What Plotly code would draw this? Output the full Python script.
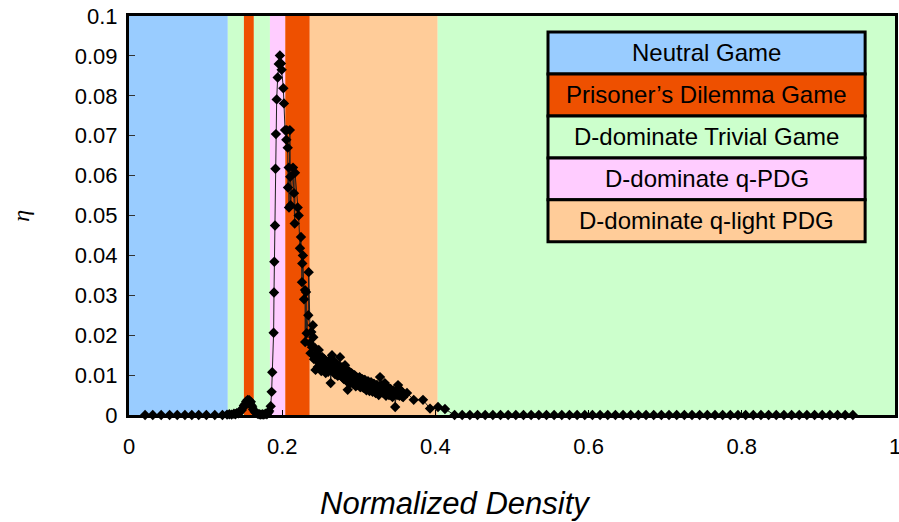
import plotly.graph_objects as go

# ---------------- data ----------------
# regime bands along the density axis (start, end, colour name)
band_starts = [0.0, 0.129, 0.150, 0.163, 0.184, 0.204, 0.236, 0.403]
band_ends = [0.129, 0.150, 0.163, 0.184, 0.204, 0.236, 0.403, 1.0]
band_kinds = ["neutral", "trivial", "pd", "trivial", "qpdg", "pd", "qlight", "trivial"]

legend_labels = ["Neutral Game", "Prisoner\u2019s Dilemma Game", "D-dominate Trivial Game",
                 "D-dominate q-PDG", "D-dominate q-light PDG"]
legend_kinds = ["neutral", "pd", "trivial", "qpdg", "qlight"]

# eta vs normalized density
left_zero_density = [0.021, 0.031, 0.042, 0.053, 0.063, 0.073, 0.082, 0.091, 0.101, 0.112]
left_zero_eta = [0, 0, 0, 0, 0, 0, 0, 0, 0, 0]

bump_density = [0.122, 0.128, 0.131, 0.134, 0.137, 0.139, 0.141, 0.143, 0.145, 0.147,
                0.149, 0.150, 0.152, 0.153, 0.154, 0.155, 0.156, 0.157, 0.158, 0.159,
                0.160, 0.161, 0.162, 0.164, 0.166, 0.168, 0.170, 0.172, 0.174, 0.176,
                0.178, 0.180, 0.182, 0.183]
bump_eta = [0.0, 0.0001, 0.0002, 0.0001, 0.0003, 0.0002, 0.0005, 0.0004, 0.0009, 0.0012,
            0.0018, 0.0024, 0.0028, 0.0034, 0.0031, 0.0038, 0.0035, 0.0037, 0.0030, 0.0033,
            0.0024, 0.0020, 0.0014, 0.0008, 0.0005, 0.0003, 0.0002, 0.0001, 0.0002, 0.0001,
            0.0003, 0.0002, 0.0006, 0.0010]

peak_density = [0.1850, 0.1862, 0.1870, 0.1888, 0.1893, 0.1897, 0.1906, 0.1912, 0.1918,
                0.1928, 0.1941, 0.1955, 0.1970, 0.1984, 0.1993, 0.2015, 0.2023]
peak_eta = [0.0022, 0.0058, 0.0107, 0.0206, 0.0307, 0.0384, 0.0475, 0.0617, 0.0704,
            0.0791, 0.0846, 0.0880, 0.0901, 0.0881, 0.0865, 0.0819, 0.0781]

fall_density = [0.2037, 0.2054, 0.2059, 0.2072, 0.2076, 0.2085, 0.2089, 0.2100, 0.2105,
                0.2110, 0.2141, 0.2154, 0.2163, 0.2167, 0.2202, 0.2215, 0.2232, 0.2245,
                0.2258, 0.2262, 0.2270, 0.2285, 0.2298, 0.2300, 0.2311, 0.2320, 0.2341,
                0.2346, 0.2363]
fall_eta = [0.0714, 0.0690, 0.0714, 0.0670, 0.0570, 0.0620, 0.0520, 0.0714, 0.0597,
            0.0526, 0.0620, 0.0556, 0.0480, 0.0607, 0.0520, 0.0500, 0.0418, 0.0446,
            0.0333, 0.0380, 0.0400, 0.0290, 0.0313, 0.0183, 0.0308, 0.0205, 0.0250,
            0.0358, 0.0180]

tail_density = [0.2370, 0.2380, 0.2389, 0.2400, 0.2406, 0.2415, 0.2428, 0.2435, 0.2445,
                0.2450, 0.2465, 0.2470, 0.2477, 0.2485, 0.2493, 0.2500, 0.2510, 0.2518,
                0.2525, 0.2533, 0.2540, 0.2550, 0.2560, 0.2568, 0.2575, 0.2583, 0.2590,
                0.2600, 0.2610, 0.2617, 0.2624, 0.2633, 0.2641, 0.2650, 0.2658, 0.2665,
                0.2673, 0.2680, 0.2690, 0.2700, 0.2708, 0.2715, 0.2725, 0.2735, 0.2745,
                0.2755, 0.2762, 0.2770, 0.2780, 0.2790, 0.2798, 0.2805, 0.2812, 0.2820,
                0.2830, 0.2840, 0.2848, 0.2855, 0.2862, 0.2870, 0.2880, 0.2890, 0.2898,
                0.2905, 0.2915, 0.2925, 0.2935, 0.2945, 0.2952, 0.2960, 0.2970, 0.2980,
                0.2990, 0.3000, 0.3010, 0.3018, 0.3025, 0.3035, 0.3045, 0.3052, 0.3060,
                0.3070, 0.3080, 0.3090, 0.3100, 0.3110, 0.3120, 0.3130, 0.3140, 0.3150,
                0.3160, 0.3170, 0.3180, 0.3190, 0.3200, 0.3210, 0.3220, 0.3230, 0.3240,
                0.3250, 0.3260, 0.3268, 0.3277, 0.3285, 0.3290, 0.3300, 0.3310, 0.3320,
                0.3330, 0.3340, 0.3348, 0.3355, 0.3365, 0.3375, 0.3385, 0.3395, 0.3405,
                0.3415, 0.3428, 0.3440, 0.3455, 0.3470, 0.3475, 0.3490, 0.3500, 0.3512,
                0.3520, 0.3530, 0.3542, 0.3555, 0.3568, 0.3580, 0.3629, 0.3717, 0.3838,
                0.3930, 0.4034, 0.4125]
tail_eta = [0.0155, 0.0208, 0.0170, 0.0225, 0.0195, 0.0140, 0.0168, 0.0113, 0.0150,
            0.0140, 0.0120, 0.0152, 0.0163, 0.0118, 0.0130, 0.0145, 0.0110, 0.0138,
            0.0145, 0.0112, 0.0118, 0.0140, 0.0135, 0.0105, 0.0112, 0.0132, 0.0128,
            0.0108, 0.0115, 0.0138, 0.0133, 0.0080, 0.0120, 0.0150, 0.0110, 0.0118,
            0.0135, 0.0130, 0.0102, 0.0108, 0.0128, 0.0125, 0.0098, 0.0100, 0.0122,
            0.0145, 0.0105, 0.0098, 0.0120, 0.0118, 0.0092, 0.0090, 0.0115, 0.0125,
            0.0095, 0.0085, 0.0108, 0.0063, 0.0098, 0.0110, 0.0088, 0.0080, 0.0102,
            0.0105, 0.0085, 0.0078, 0.0098, 0.0100, 0.0080, 0.0072, 0.0095, 0.0092,
            0.0075, 0.0085, 0.0095, 0.0070, 0.0070, 0.0090, 0.0090, 0.0072, 0.0068,
            0.0088, 0.0088, 0.0065, 0.0062, 0.0082, 0.0085, 0.0068, 0.0060, 0.0080,
            0.0082, 0.0062, 0.0058, 0.0078, 0.0078, 0.0058, 0.0055, 0.0075, 0.0075,
            0.0055, 0.0050, 0.0070, 0.0095, 0.0062, 0.0060, 0.0075, 0.0072, 0.0055,
            0.0068, 0.0080, 0.0058, 0.0048, 0.0070, 0.0068, 0.0052, 0.0050, 0.0066,
            0.0065, 0.0048, 0.0045, 0.0060, 0.0055, 0.0020, 0.0062, 0.0050, 0.0075,
            0.0058, 0.0048, 0.0062, 0.0060, 0.0046, 0.0045, 0.0055, 0.0038, 0.0038,
            0.0016, 0.0020, 0.0015]

right_zero_density = [0.425, 0.435, 0.445, 0.455, 0.465, 0.475, 0.485, 0.495, 0.505, 0.515,
                      0.525, 0.535, 0.545, 0.555, 0.565, 0.575, 0.585, 0.595, 0.605, 0.615,
                      0.625, 0.635, 0.645, 0.655, 0.665, 0.675, 0.685, 0.695, 0.705, 0.715,
                      0.725, 0.735, 0.745, 0.755, 0.765, 0.775, 0.785, 0.795, 0.805, 0.815,
                      0.825, 0.835, 0.845, 0.855, 0.865, 0.875, 0.885, 0.895, 0.905, 0.915,
                      0.925, 0.935, 0.945]
right_zero_eta = [0] * len(right_zero_density)

x_tick_vals = [0, 0.2, 0.4, 0.6, 0.8, 1]
x_tick_text = ["0", "0.2", "0.4", "0.6", "0.8", "1"]
y_tick_vals = [0, 0.01, 0.02, 0.03, 0.04, 0.05, 0.06, 0.07, 0.08, 0.09, 0.1]
y_tick_text = ["0", "0.01", "0.02", "0.03", "0.04", "0.05", "0.06", "0.07", "0.08", "0.09", "0.1"]

# ---------------- styling ----------------
colors = {
    "neutral": "#99CCFF",
    "pd": "#EE5000",
    "trivial": "#CCFFCC",
    "qpdg": "#FFCCFF",
    "qlight": "#FFCC99",
}
FONT = "Liberation Sans, Arial, sans-serif"

density = (left_zero_density + bump_density + peak_density + fall_density
           + tail_density + right_zero_density)
eta = left_zero_eta + bump_eta + peak_eta + fall_eta + tail_eta + right_zero_eta

fig = go.Figure()
fig.add_trace(go.Scatter(
    x=density, y=eta, mode="lines+markers",
    line=dict(color="#202020", width=1),
    marker=dict(symbol="diamond", size=8, color="black"),
    cliponaxis=False, showlegend=False,
))

shapes = []
for x0, x1, k in zip(band_starts, band_ends, band_kinds):
    shapes.append(dict(type="rect", xref="x", yref="y domain", x0=x0, x1=x1, y0=0, y1=1,
                       fillcolor=colors[k], line=dict(width=0), layer="below"))

# legend boxes (paper coordinates of the plot area)
lx0, lx1 = 0.547, 0.961
ltop, row_h = 0.960, 0.1052
annotations = []
for i, (lab, k) in enumerate(zip(legend_labels, legend_kinds)):
    y1 = ltop - i * row_h
    y0 = y1 - row_h
    shapes.append(dict(type="rect", xref="x domain", yref="y domain", x0=lx0, x1=lx1,
                       y0=y0, y1=y1, fillcolor=colors[k],
                       line=dict(color="black", width=3), layer="above"))
    annotations.append(dict(xref="x domain", yref="y domain", x=(lx0 + lx1) / 2,
                            y=(y0 + y1) / 2, text=lab, showarrow=False,
                            font=dict(family=FONT, size=24, color="black"),
                            xanchor="center", yanchor="middle"))

annotations.append(dict(xref="paper", yref="paper", x=-0.142, y=0.5, text="<i>\u03b7</i>",
                        showarrow=False, textangle=-90,
                        font=dict(family="Liberation Serif, serif", size=24, color="black"),
                        xanchor="center", yanchor="middle"))
annotations.append(dict(xref="paper", yref="paper", x=0.4256, y=-0.222,
                        text="<i>Normalized Density</i>", showarrow=False,
                        font=dict(family=FONT, size=31, color="black"),
                        xanchor="center", yanchor="middle"))

fig.update_layout(
    width=899, height=522,
    margin=dict(l=129, r=4, t=16, b=107),
    paper_bgcolor="white", plot_bgcolor="white",
    shapes=shapes, annotations=annotations,
    xaxis=dict(range=[0, 1], tickvals=x_tick_vals, ticktext=x_tick_text,
               showgrid=False, zeroline=False, showline=True, mirror=True,
               linecolor="black", linewidth=3, ticks="inside", ticklen=5,
               tickcolor="black", tickfont=dict(family=FONT, size=22, color="black"),
               ticklabelstandoff=10, automargin=False, ticklabeloverflow="allow"),
    yaxis=dict(range=[0, 0.1], tickvals=y_tick_vals, ticktext=y_tick_text,
               showgrid=False, zeroline=False, showline=True, mirror=True,
               linecolor="black", linewidth=3, ticks="inside", ticklen=6,
               tickcolor="#333333", tickfont=dict(family=FONT, size=22, color="black"),
               ticklabelstandoff=4, automargin=False, ticklabeloverflow="allow"),
)

fig.write_html("out.html")
